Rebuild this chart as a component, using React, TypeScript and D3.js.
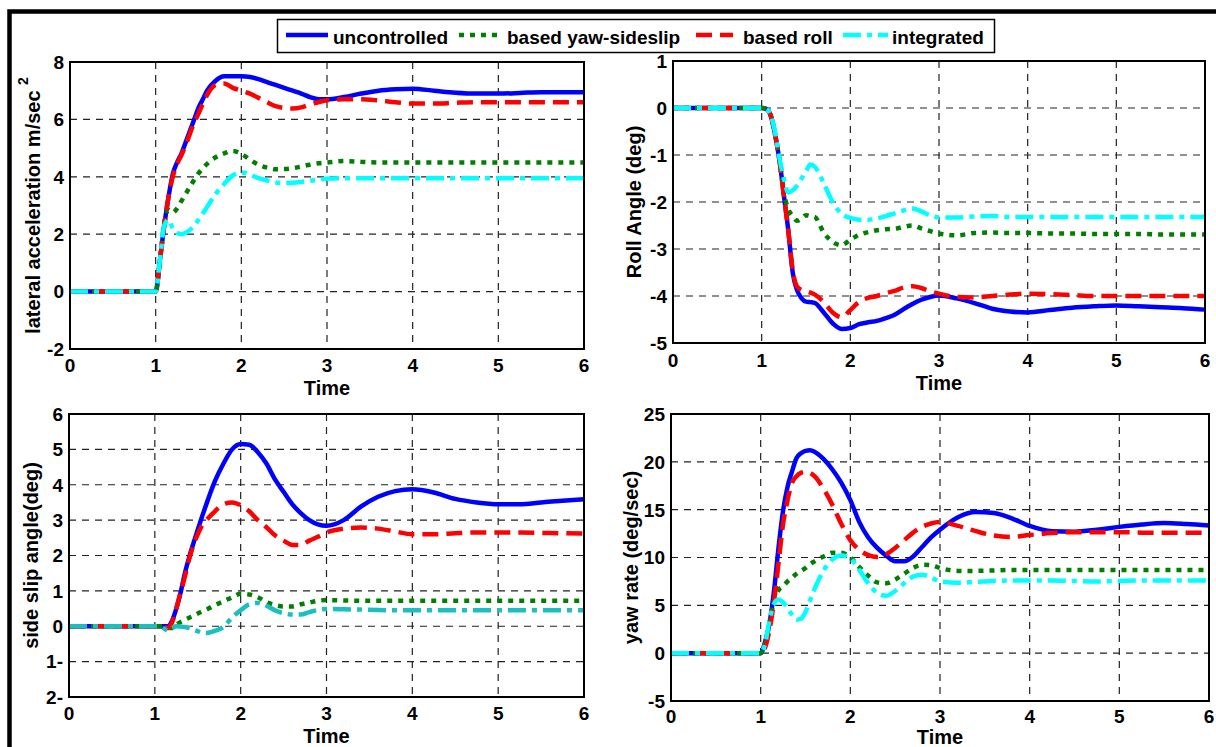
import * as d3 from 'd3';

// sample times shared by every curve (s)
const TIME = [0, 1, 1.05, 1.1, 1.15, 1.2, 1.25, 1.3, 1.35, 1.4, 1.45, 1.5, 1.55, 1.6, 1.7, 1.8, 1.9, 2.0, 2.1, 2.2, 2.3, 2.4, 2.5, 2.6, 2.7, 2.8, 2.9, 3.0, 3.2, 3.4, 3.6, 3.8, 4.0, 4.25, 4.5, 4.75, 5.0, 5.25, 5.5, 5.75, 6.0];
const X_TICKS = [0, 1, 2, 3, 4, 5, 6];

const SERIES_NAMES = ['uncontrolled', 'based yaw-sideslip', 'based roll', 'integrated'];

// lateral acceleration
const LAT_TICKS = [-2, 0, 2, 4, 6, 8];
const LAT_TICK_LABELS = ['-2', '0', '2', '4', '6', '8'];
const LAT_UNCONTROLLED = [0, 0, 1.1, 2.3, 3.3, 4.1, 4.5, 4.8, 5.2, 5.6, 6.0, 6.4, 6.7, 7.0, 7.35, 7.5, 7.5, 7.5, 7.48, 7.4, 7.3, 7.2, 7.1, 7.0, 6.9, 6.78, 6.7, 6.7, 6.78, 6.9, 7.0, 7.05, 7.07, 7.0, 6.93, 6.9, 6.9, 6.92, 6.95, 6.95, 6.95];
const LAT_YAW = [0, 0, 1.1, 2.4, 2.85, 2.75, 2.9, 3.15, 3.4, 3.65, 3.9, 4.12, 4.3, 4.45, 4.68, 4.82, 4.9, 4.8, 4.6, 4.42, 4.32, 4.26, 4.27, 4.3, 4.36, 4.42, 4.47, 4.5, 4.55, 4.52, 4.5, 4.5, 4.5, 4.5, 4.5, 4.5, 4.5, 4.5, 4.5, 4.5, 4.5];
const LAT_ROLL = [0, 0, 1.1, 2.3, 3.3, 4.0, 4.45, 4.75, 5.1, 5.5, 5.9, 6.2, 6.55, 6.85, 7.2, 7.25, 7.1, 7.0, 6.9, 6.75, 6.6, 6.46, 6.4, 6.38, 6.42, 6.52, 6.6, 6.67, 6.7, 6.7, 6.66, 6.6, 6.55, 6.55, 6.58, 6.6, 6.6, 6.6, 6.6, 6.6, 6.6];
const LAT_INTEGRATED = [0, 0, 1.1, 2.3, 2.5, 2.2, 2.05, 2.0, 2.05, 2.15, 2.3, 2.5, 2.72, 2.95, 3.4, 3.75, 4.05, 4.15, 4.08, 3.95, 3.87, 3.8, 3.78, 3.79, 3.82, 3.86, 3.9, 3.93, 3.95, 3.95, 3.95, 3.95, 3.95, 3.95, 3.95, 3.95, 3.95, 3.95, 3.95, 3.95, 3.95];

// roll angle
const ROLL_TICKS = [-5, -4, -3, -2, -1, 0, 1];
const ROLL_TICK_LABELS = ['-5', '-4', '-3', '-2', '-1', '0', '1'];
const ROLL_UNCONTROLLED = [0, 0, -0.02, -0.15, -0.55, -1.1, -1.85, -2.6, -3.5, -3.88, -4.05, -4.12, -4.13, -4.15, -4.35, -4.58, -4.7, -4.68, -4.6, -4.56, -4.53, -4.47, -4.4, -4.28, -4.17, -4.08, -4.02, -3.99, -4.05, -4.15, -4.27, -4.33, -4.35, -4.3, -4.25, -4.22, -4.2, -4.22, -4.24, -4.26, -4.29];
const ROLL_YAW = [0, 0, -0.02, -0.15, -0.55, -1.1, -1.8, -2.15, -2.3, -2.4, -2.35, -2.28, -2.3, -2.32, -2.65, -2.85, -2.92, -2.8, -2.7, -2.64, -2.6, -2.58, -2.57, -2.53, -2.5, -2.56, -2.62, -2.67, -2.71, -2.66, -2.65, -2.66, -2.66, -2.67, -2.67, -2.68, -2.68, -2.68, -2.69, -2.69, -2.69];
const ROLL_ROLL = [0, 0, -0.02, -0.15, -0.55, -1.1, -1.85, -2.6, -3.45, -3.8, -3.87, -3.9, -3.93, -3.97, -4.13, -4.35, -4.45, -4.3, -4.12, -4.04, -4.0, -3.94, -3.89, -3.82, -3.79, -3.83, -3.9, -3.95, -4.02, -4.03, -4.0, -3.97, -3.95, -3.96, -3.98, -4.0, -4.0, -4.0, -4.0, -4.0, -4.0];
const ROLL_INTEGRATED = [0, 0, -0.02, -0.15, -0.5, -1.05, -1.5, -1.8, -1.75, -1.65, -1.5, -1.35, -1.2, -1.25, -1.6, -2.0, -2.25, -2.34, -2.38, -2.38, -2.35, -2.3, -2.24, -2.18, -2.14, -2.2, -2.28, -2.33, -2.33, -2.31, -2.3, -2.32, -2.32, -2.32, -2.32, -2.32, -2.32, -2.32, -2.32, -2.32, -2.32];

// side slip angle
const SLIP_TICKS = [-2, -1, 0, 1, 2, 3, 4, 5, 6];
const SLIP_TICK_LABELS = ['2-', '1-', '0', '1', '2', '3', '4', '5', '6'];
const SLIP_UNCONTROLLED = [0, 0, 0, 0, 0, 0.15, 0.5, 0.95, 1.5, 1.95, 2.35, 2.73, 3.1, 3.45, 4.1, 4.6, 5.0, 5.15, 5.13, 4.92, 4.6, 4.15, 3.8, 3.45, 3.2, 3.0, 2.88, 2.84, 3.0, 3.38, 3.66, 3.82, 3.87, 3.78, 3.6, 3.5, 3.45, 3.45, 3.5, 3.55, 3.59];
const SLIP_YAW = [0, 0, 0, 0, -0.05, -0.05, 0.05, 0.12, 0.18, 0.24, 0.3, 0.36, 0.42, 0.47, 0.6, 0.7, 0.82, 0.92, 0.9, 0.82, 0.68, 0.6, 0.56, 0.56, 0.62, 0.67, 0.72, 0.74, 0.73, 0.72, 0.72, 0.72, 0.72, 0.72, 0.72, 0.72, 0.72, 0.72, 0.72, 0.72, 0.72];
const SLIP_ROLL = [0, 0, 0, 0, -0.05, 0.1, 0.5, 0.95, 1.4, 1.9, 2.3, 2.6, 2.85, 3.0, 3.25, 3.45, 3.5, 3.42, 3.25, 3.0, 2.8, 2.57, 2.42, 2.3, 2.3, 2.42, 2.53, 2.65, 2.76, 2.79, 2.76, 2.68, 2.6, 2.6, 2.63, 2.65, 2.65, 2.65, 2.64, 2.63, 2.62];
const SLIP_INTEGRATED = [0, 0, 0, -0.05, -0.12, -0.05, 0, -0.01, -0.02, -0.05, -0.1, -0.14, -0.18, -0.19, -0.13, -0.02, 0.25, 0.45, 0.62, 0.66, 0.58, 0.45, 0.37, 0.33, 0.33, 0.4, 0.46, 0.49, 0.48, 0.47, 0.46, 0.45, 0.45, 0.45, 0.45, 0.45, 0.45, 0.45, 0.45, 0.45, 0.45];

// yaw rate
const YAW_TICKS = [-5, 0, 5, 10, 15, 20, 25];
const YAW_TICK_LABELS = ['-5', '0', '5', '10', '15', '20', '25'];
const YAW_UNCONTROLLED = [0, 0, 1.2, 3.2, 6.6, 11.1, 14.9, 17.4, 19.0, 20.4, 20.9, 21.15, 21.2, 21.05, 20.3, 19.2, 17.8, 16.0, 13.7, 12.1, 11.0, 10.2, 9.6, 9.6, 10.1, 11.1, 12.1, 12.9, 14.2, 14.75, 14.65, 14.1, 13.3, 12.75, 12.7, 12.9, 13.2, 13.45, 13.6, 13.5, 13.35];
const YAW_YAW = [0, 0, 1.0, 3.2, 5.5, 6.6, 7.0, 7.5, 7.9, 8.3, 8.6, 8.9, 9.3, 9.6, 10.1, 10.5, 10.5, 10.0, 9.0, 8.1, 7.4, 7.3, 7.7, 8.3, 8.9, 9.25, 9.2, 8.9, 8.6, 8.6, 8.65, 8.7, 8.7, 8.7, 8.7, 8.7, 8.7, 8.7, 8.7, 8.7, 8.7];
const YAW_ROLL = [0, 0, 0.6, 2.5, 5.5, 9.5, 13.5, 16.0, 17.8, 18.5, 18.85, 18.95, 18.85, 18.5, 17.2, 15.5, 13.5, 11.8, 10.8, 10.25, 10.05, 10.35, 11.0, 11.8, 12.6, 13.2, 13.55, 13.7, 13.3, 12.75, 12.3, 12.15, 12.35, 12.55, 12.65, 12.65, 12.65, 12.6, 12.6, 12.6, 12.6];
const YAW_INTEGRATED = [0, 0, 1.0, 3.5, 5.2, 5.6, 5.3, 4.7, 4.0, 3.5, 3.6, 4.3, 5.5, 6.7, 8.6, 9.8, 10.2, 9.9, 8.7, 7.3, 6.3, 6.0, 6.5, 7.3, 8.0, 8.2, 7.9, 7.5, 7.35, 7.45, 7.55, 7.6, 7.6, 7.6, 7.55, 7.5, 7.55, 7.6, 7.6, 7.6, 7.6];

const FONT = '"Liberation Sans", Arial, Helvetica, sans-serif';
const LINE_W = 4.5;

const STYLES = [
  { color: '#0000ff', dash: undefined },
  { color: '#008000', dash: '5,6' },
  { color: '#ff0000', dash: '16,8' },
  { color: '#00ffff', dash: '18,6,5,6' },
];

type PanelProps = {
  left: number;
  right: number;
  top: number;
  bottom: number;
  yTicks: number[];
  yTickLabels: string[];
  series: number[][];
  yLabel: React.ReactNode;
  yLabelX: number;
  xTickY: number;
  timeY: number;
  cyan?: string;
};

const Panel = ({ left, right, top, bottom, yTicks, yTickLabels, series, yLabel, yLabelX, xTickY, timeY, cyan }: PanelProps) => {
  const x = d3.scaleLinear().domain([0, 6]).range([left, right]);
  const y = d3.scaleLinear().domain([yTicks[0], yTicks[yTicks.length - 1]]).range([bottom, top]);
  const line = d3.line<number>()
    .x((_, i) => x(TIME[i]))
    .y((d) => y(d))
    .curve(d3.curveMonotoneX);

  return (
    <g>
      {/* grid */}
      {X_TICKS.slice(1, -1).map((t) => (
        <line key={'gx' + t} x1={x(t)} x2={x(t)} y1={top} y2={bottom} stroke="#222" strokeWidth={1.2} strokeDasharray="7,6" />
      ))}
      {yTicks.slice(1, -1).map((t) => (
        <line key={'gy' + t} x1={left} x2={right} y1={y(t)} y2={y(t)} stroke="#222" strokeWidth={1.2} strokeDasharray="7,6" />
      ))}
      {/* curves */}
      {series.map((s, i) => (
        <path
          key={i}
          d={line(s) ?? ''}
          fill="none"
          stroke={i === 3 && cyan ? cyan : STYLES[i].color}
          strokeWidth={LINE_W}
          strokeDasharray={STYLES[i].dash}
          strokeLinejoin="round"
        />
      ))}
      <rect x={left} y={top} width={right - left} height={bottom - top} fill="none" stroke="#000" strokeWidth={2} />
      {/* tick labels */}
      {X_TICKS.map((t) => (
        <text key={'xt' + t} x={x(t)} y={xTickY} textAnchor="middle" fontSize={19} fontWeight="bold" fontFamily={FONT}>{t}</text>
      ))}
      {yTicks.map((t, i) => (
        <text key={'yt' + t} x={left - 6} y={y(t)} dy="0.36em" textAnchor="end" fontSize={19} fontWeight="bold" fontFamily={FONT}>{yTickLabels[i]}</text>
      ))}
      <text x={(left + right) / 2} y={timeY} textAnchor="middle" fontSize={20} fontWeight="bold" fontFamily={FONT}>Time</text>
      <text transform={`translate(${yLabelX},${(top + bottom) / 2}) rotate(-90)`} textAnchor="middle" fontSize={20} fontWeight="bold" fontFamily={FONT}>{yLabel}</text>
    </g>
  );
};

const Legend = () => {
  // sample line start/end and text start for each entry
  const items = [
    { x1: 286, x2: 328, tx: 333 },
    { x1: 459, x2: 497, tx: 507 },
    { x1: 696, x2: 733, tx: 743 },
    { x1: 843, x2: 888, tx: 892 },
  ];
  return (
    <g>
      <rect x={277.5} y={19.5} width={717} height={33} fill="#fff" stroke="#000" strokeWidth={1.5} />
      {items.map((it, i) => (
        <g key={i}>
          <line x1={it.x1} x2={it.x2} y1={35} y2={35} stroke={STYLES[i].color} strokeWidth={LINE_W} strokeDasharray={STYLES[i].dash} />
          <text x={it.tx} y={43.5} fontSize={19} fontWeight="bold" fontFamily={FONT}>{SERIES_NAMES[i]}</text>
        </g>
      ))}
    </g>
  );
};

export default function App() {
  return (
    <svg width={1216} height={747} style={{ position: 'absolute', left: 0, top: 0, background: '#fff' }}>
      <rect x={0} y={0} width={1216} height={747} fill="#fff" />
      <rect x={9.5} y={11.5} width={1230} height={760} fill="none" stroke="#000" strokeWidth={4.5} />
      <Panel
        left={70} right={584} top={62} bottom={349}
        yTicks={LAT_TICKS} yTickLabels={LAT_TICK_LABELS}
        series={[LAT_UNCONTROLLED, LAT_YAW, LAT_ROLL, LAT_INTEGRATED]}
        yLabel={<>lateral acceleration m/sec <tspan fontSize={14} dy={-12}>2</tspan></>}
        yLabelX={40} xTickY={372} timeY={395}
      />
      <Panel
        left={673} right={1205} top={61} bottom={343}
        yTicks={ROLL_TICKS} yTickLabels={ROLL_TICK_LABELS}
        series={[ROLL_UNCONTROLLED, ROLL_YAW, ROLL_ROLL, ROLL_INTEGRATED]}
        yLabel="Roll Angle (deg)"
        yLabelX={641} xTickY={367} timeY={390}
      />
      <Panel
        left={69} right={584} top={414} bottom={697}
        yTicks={SLIP_TICKS} yTickLabels={SLIP_TICK_LABELS}
        series={[SLIP_UNCONTROLLED, SLIP_YAW, SLIP_ROLL, SLIP_INTEGRATED]}
        yLabel="side slip angle(deg)"
        yLabelX={38} xTickY={720} timeY={743}
        cyan="#1bbfbf"
      />
      <Panel
        left={671} right={1209} top={414} bottom={701}
        yTicks={YAW_TICKS} yTickLabels={YAW_TICK_LABELS}
        series={[YAW_UNCONTROLLED, YAW_YAW, YAW_ROLL, YAW_INTEGRATED]}
        yLabel="yaw rate (deg/sec)"
        yLabelX={638} xTickY={723} timeY={744}
      />
      <Legend />
    </svg>
  );
}
